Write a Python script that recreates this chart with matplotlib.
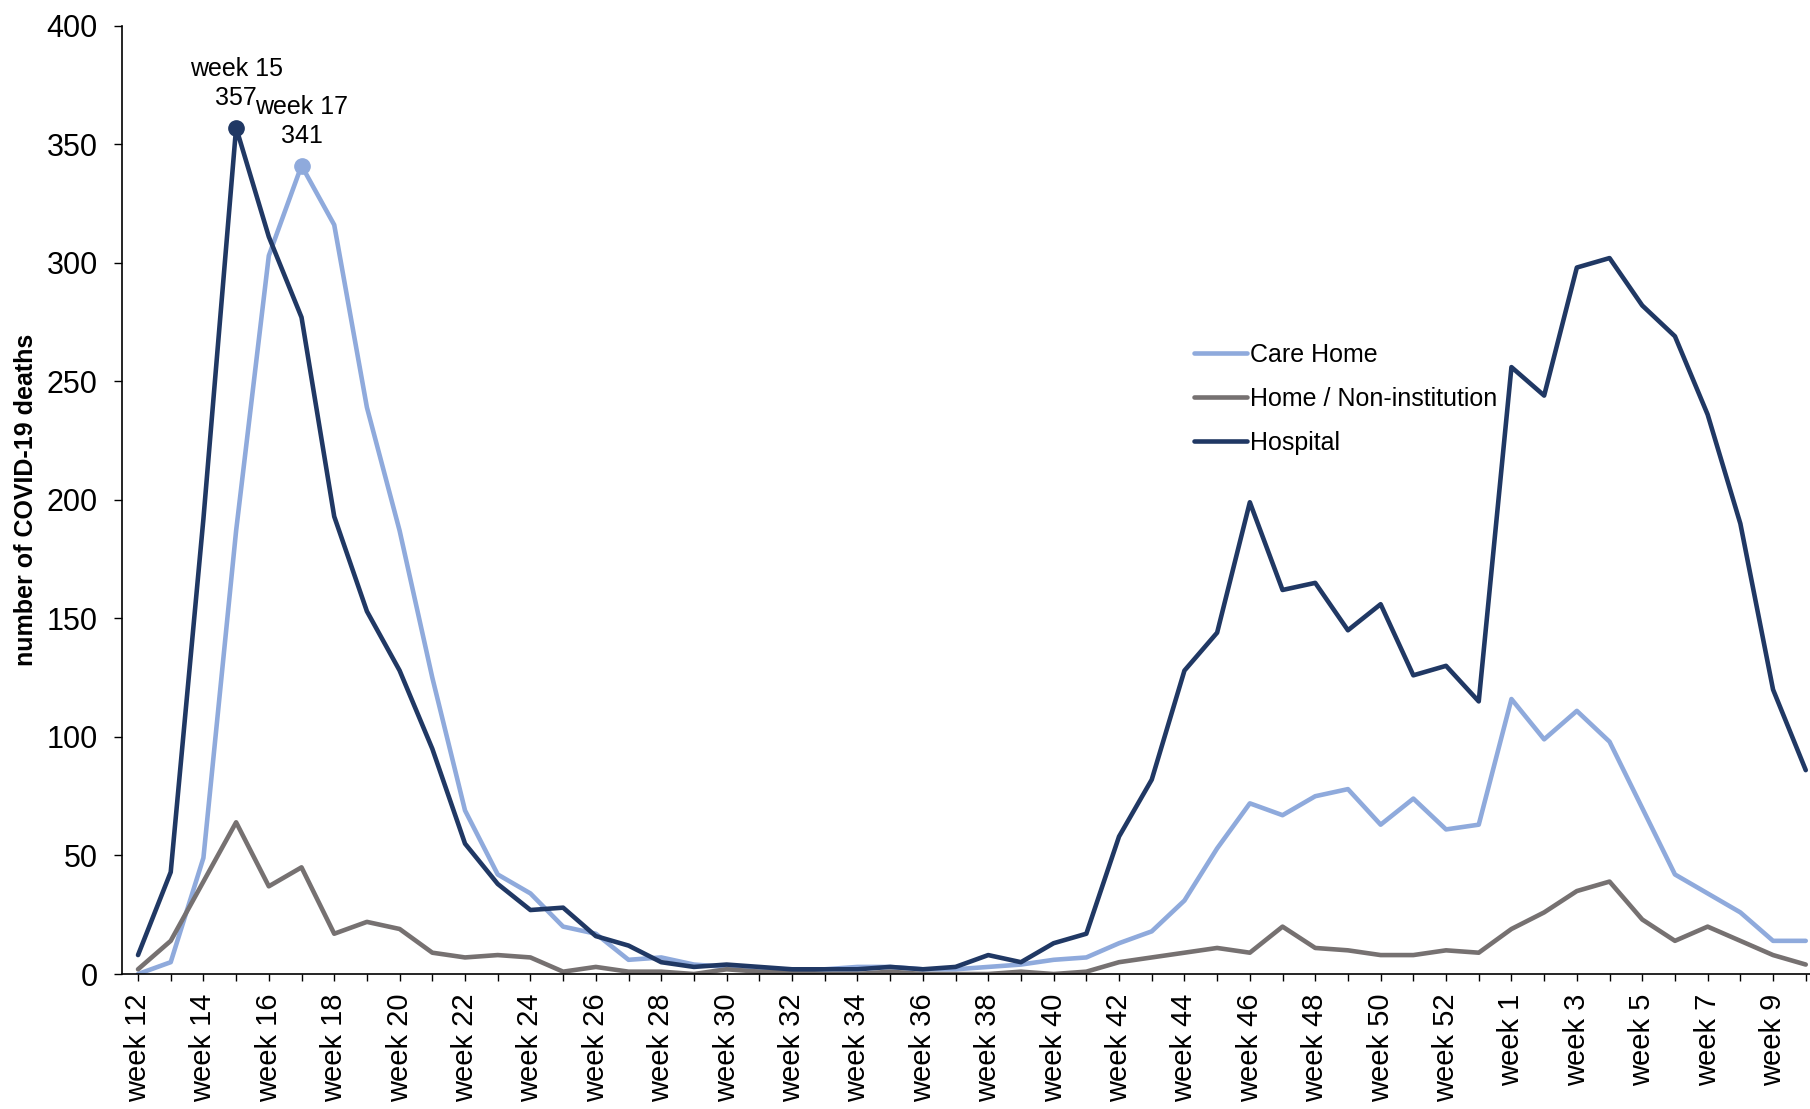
import matplotlib
matplotlib.use("Agg")
import matplotlib.pyplot as plt

plt.rcParams['font.family'] = ['Liberation Sans', 'DejaVu Sans']

# weeks 12-53 of 2020, then weeks 1-10 of 2021
week_labels = [f"week {w}" for w in range(12, 54)] + [f"week {w}" for w in range(1, 11)]

care_home = [0, 5, 49, 187, 303, 341, 316, 239, 187, 125,
             69, 42, 34, 20, 17, 6, 7, 4, 3, 2,
             2, 2, 3, 3, 2, 2, 3, 4, 6, 7,
             13, 18, 31, 53, 72, 67, 75, 78, 63, 74,
             61, 63,
             116, 99, 111, 98, 70, 42, 34, 26, 14, 14]

home = [2, 14, 39, 64, 37, 45, 17, 22, 19, 9,
        7, 8, 7, 1, 3, 1, 1, 0, 2, 1,
        1, 0, 0, 1, 0, 0, 0, 1, 0, 1,
        5, 7, 9, 11, 9, 20, 11, 10, 8, 8,
        10, 9,
        19, 26, 35, 39, 23, 14, 20, 14, 8, 4]

hospital = [8, 43, 192, 357, 311, 277, 193, 153, 128, 95,
            55, 38, 27, 28, 16, 12, 5, 3, 4, 3,
            2, 2, 2, 3, 2, 3, 8, 5, 13, 17,
            58, 82, 128, 144, 199, 162, 165, 145, 156, 126,
            130, 115,
            256, 244, 298, 302, 282, 269, 236, 190, 120, 86]

series_names = ["Care Home", "Home / Non-institution", "Hospital"]
colors = ["#8FAADC", "#767171", "#203864"]

x = list(range(len(week_labels)))

fig = plt.figure(figsize=(18.1, 11.09), dpi=100)
ax = fig.add_axes([0.0674, 0.1217, 0.9326, 0.8551])

for vals, name, col in zip([care_home, home, hospital], series_names, colors):
    ax.plot(x, vals, color=col, lw=3.3, label=name,
            solid_capstyle='round', solid_joinstyle='round')

# highlight the peaks of the first wave
peaks = [(hospital, colors[2]), (care_home, colors[0])]
for vals, col in peaks:
    i = vals.index(max(vals[:20]))
    ax.plot(x[i], vals[i], 'o', color=col, markersize=11, zorder=5)
    ax.annotate(f"{week_labels[i]}\n{vals[i]}", (x[i], vals[i]),
                xytext=(0, 13), textcoords='offset points',
                ha='center', va='bottom', fontsize=18, linespacing=1.25)

ax.set_ylim(0, 400)
ax.set_xlim(-0.49, 51.13)
ax.set_yticks(range(0, 401, 50))
ax.tick_params(axis='y', labelsize=22, length=5.5, width=1, pad=12, direction='out')

ax.set_xticks(x)
ax.set_xticklabels([lab if i % 2 == 0 else "" for i, lab in enumerate(week_labels)],
                   rotation=90, fontsize=21)
ax.tick_params(axis='x', length=5, width=1, pad=9, direction='out')

for side in ['top', 'right']:
    ax.spines[side].set_visible(False)
for side in ['left', 'bottom']:
    ax.spines[side].set_linewidth(1.2)

ax.set_ylabel("number of COVID-19 deaths", fontsize=18, fontweight='bold')
ax.yaxis.set_label_coords(-0.050, 0.5)

ax.legend(loc='upper left', bbox_to_anchor=(0.6597, 0.6905), bbox_transform=fig.transFigure,
          frameon=False, fontsize=18, handlelength=2.1, handletextpad=0.15,
          labelspacing=0.8, borderpad=0, borderaxespad=0)

fig.savefig("out.png", dpi=100)
